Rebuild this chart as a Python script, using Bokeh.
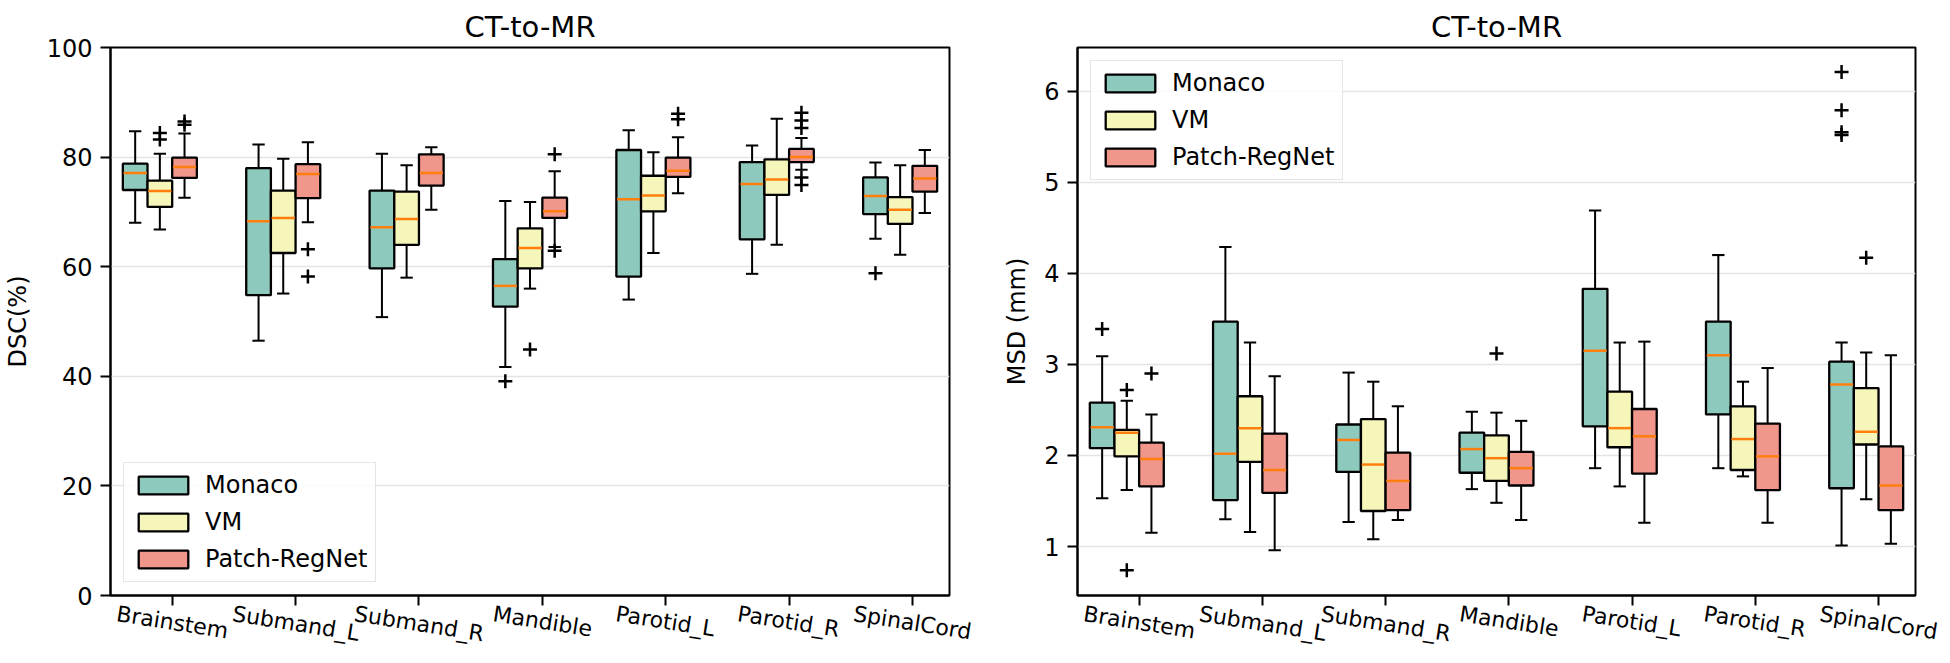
import math
from bokeh.plotting import figure
from bokeh.models import Range1d, FixedTicker, Legend, LegendItem
from bokeh.layouts import row
from bokeh.embed import file_html
from bokeh.resources import INLINE

structures = ["Brainstem", "Submand_L", "Submand_R", "Mandible", "Parotid_L", "Parotid_R", "SpinalCord"]
methods = ["Monaco", "VM", "Patch-RegNet"]
colors = ["#8ec9bd", "#f7f6ba", "#f0968a"]
median_color = "#ff7f0e"

# ---------------- DSC (%) ----------------
dsc_monaco_whislo = [68.0, 46.5, 50.8, 41.7, 54.0, 58.7, 65.1]
dsc_monaco_q1 = [74.0, 54.8, 59.7, 52.7, 58.2, 65.0, 69.6]
dsc_monaco_med = [77.1, 68.3, 67.2, 56.5, 72.3, 75.1, 72.9]
dsc_monaco_q3 = [78.8, 78.0, 73.9, 61.4, 81.3, 79.1, 76.3]
dsc_monaco_whishi = [84.7, 82.3, 80.6, 72.0, 84.9, 82.1, 79.0]
dsc_monaco_fliers = [[], [], [], [39.1], [], [], [58.8]]

dsc_vm_whislo = [66.8, 55.1, 58.0, 56.0, 62.5, 64.0, 62.2]
dsc_vm_q1 = [70.9, 62.5, 64.0, 59.7, 70.1, 73.1, 67.8]
dsc_vm_med = [73.8, 68.9, 68.7, 63.4, 73.0, 75.9, 70.4]
dsc_vm_q3 = [75.7, 73.9, 73.7, 67.0, 76.6, 79.6, 72.7]
dsc_vm_whishi = [80.6, 79.7, 78.5, 71.8, 80.9, 87.0, 78.5]
dsc_vm_fliers = [[83.2, 84.4], [], [], [44.9], [], [], []]

dsc_patch_whislo = [72.6, 68.1, 70.4, 63.6, 73.4, 77.7, 69.8]
dsc_patch_q1 = [76.2, 72.5, 74.8, 68.9, 76.4, 79.1, 73.7]
dsc_patch_med = [78.2, 76.9, 77.1, 70.1, 77.5, 80.0, 76.1]
dsc_patch_q3 = [79.9, 78.7, 80.5, 72.6, 79.9, 81.5, 78.4]
dsc_patch_whishi = [84.3, 82.7, 81.8, 77.4, 83.6, 83.5, 81.3]
dsc_patch_fliers = [[85.9, 86.5], [63.2, 58.2], [], [80.5, 62.9], [86.9, 87.9],
                    [85.3, 86.7, 88.1, 76.3, 74.9], []]

# ---------------- MSD (mm) ----------------
msd_monaco_whislo = [1.53, 1.30, 1.27, 1.63, 1.86, 1.86, 1.01]
msd_monaco_q1 = [2.08, 1.51, 1.82, 1.81, 2.32, 2.45, 1.64]
msd_monaco_med = [2.31, 2.02, 2.17, 2.07, 3.15, 3.10, 2.78]
msd_monaco_q3 = [2.58, 3.47, 2.34, 2.25, 3.83, 3.47, 3.03]
msd_monaco_whishi = [3.09, 4.29, 2.91, 2.48, 4.69, 4.20, 3.24]
msd_monaco_fliers = [[3.39], [], [], [], [], [], [6.21, 5.79, 5.55, 5.52]]

msd_vm_whislo = [1.62, 1.16, 1.08, 1.48, 1.66, 1.77, 1.52]
msd_vm_q1 = [1.99, 1.93, 1.39, 1.72, 2.09, 1.84, 2.12]
msd_vm_med = [2.25, 2.30, 1.90, 1.97, 2.30, 2.18, 2.26]
msd_vm_q3 = [2.28, 2.65, 2.40, 2.22, 2.70, 2.54, 2.74]
msd_vm_whishi = [2.60, 3.24, 2.81, 2.47, 3.24, 2.81, 3.13]
msd_vm_fliers = [[2.72, 0.74], [], [], [3.12], [], [], [4.17]]

msd_patch_whislo = [1.15, 0.96, 1.29, 1.29, 1.26, 1.26, 1.03]
msd_patch_q1 = [1.66, 1.59, 1.40, 1.67, 1.80, 1.62, 1.40]
msd_patch_med = [1.96, 1.84, 1.72, 1.86, 2.21, 1.99, 1.67]
msd_patch_q3 = [2.14, 2.24, 2.03, 2.04, 2.51, 2.35, 2.10]
msd_patch_whishi = [2.45, 2.87, 2.54, 2.38, 3.25, 2.96, 3.10]
msd_patch_fliers = [[2.90], [], [], [], [], [], []]

dsc_yticks = [0, 20, 40, 60, 80, 100]
msd_yticks = [1, 2, 3, 4, 5, 6]

dsc_stats = [
    (dsc_monaco_whislo, dsc_monaco_q1, dsc_monaco_med, dsc_monaco_q3, dsc_monaco_whishi, dsc_monaco_fliers),
    (dsc_vm_whislo, dsc_vm_q1, dsc_vm_med, dsc_vm_q3, dsc_vm_whishi, dsc_vm_fliers),
    (dsc_patch_whislo, dsc_patch_q1, dsc_patch_med, dsc_patch_q3, dsc_patch_whishi, dsc_patch_fliers),
]
msd_stats = [
    (msd_monaco_whislo, msd_monaco_q1, msd_monaco_med, msd_monaco_q3, msd_monaco_whishi, msd_monaco_fliers),
    (msd_vm_whislo, msd_vm_q1, msd_vm_med, msd_vm_q3, msd_vm_whishi, msd_vm_fliers),
    (msd_patch_whislo, msd_patch_q1, msd_patch_med, msd_patch_q3, msd_patch_whishi, msd_patch_fliers),
]

FONT = "DejaVu Sans"
offsets = [-0.3, -0.1, 0.1]
box_w = 0.2
X0, X1 = 0.5, 7.3          # x range of the plot frames
FRAME_W = 842
FRAME_H = 548
TOP = 47
FIG_H = 663
LABEL_SIZE = 22
LABEL_ANGLE = 9.0          # degrees, slanting down to the right
LABEL_STANDOFF = 8

# DejaVu Sans advance widths (em) used to centre the slanted labels on their ticks
GLYPH_W = {"B": .686, "r": .411, "a": .613, "i": .278, "n": .634, "s": .521, "t": .392,
           "e": .615, "m": .974, "S": .635, "u": .634, "b": .635, "d": .635, "_": .500,
           "L": .557, "R": .695, "M": .863, "l": .278, "P": .603, "o": .612, "p": .635,
           "C": .698, "c": .550}


def text_width(s, size):
    return sum(GLYPH_W.get(ch, 0.6) for ch in s) * size


def make_panel(stats, ylabel, y0, y1, yticks, width, border_left, border_right,
               legend_loc, ylabel_standoff):
    p = figure(width=width, height=FIG_H, output_backend="svg", toolbar_location=None,
               x_range=Range1d(X0, X1), y_range=Range1d(y0, y1),
               min_border_left=border_left, min_border_right=border_right,
               min_border_top=TOP, min_border_bottom=FIG_H - TOP - FRAME_H)
    p.background_fill_color = "white"
    p.border_fill_color = "white"
    p.outline_line_color = "black"
    p.outline_line_width = 2

    p.title.text = "CT-to-MR"
    p.title.align = "center"
    p.title.text_font = FONT
    p.title.text_font_size = "29px"
    p.title.text_font_style = "normal"
    p.title.text_color = "black"
    p.title.standoff = 7

    # x axis: tick marks (as minor ticks) on the categories, slanted labels
    # on anchor positions chosen so each label is centred under its tick
    ppu = FRAME_W / (X1 - X0)
    cos_a = math.cos(math.radians(LABEL_ANGLE))
    cat_pos = list(range(1, len(structures) + 1))
    anchors = [round(c - text_width(name, LABEL_SIZE) / 2 * cos_a / ppu, 5)
               for c, name in zip(cat_pos, structures)]
    p.xaxis.ticker = FixedTicker(ticks=anchors, minor_ticks=cat_pos)
    p.xaxis.major_label_overrides = {a: n for a, n in zip(anchors, structures)}
    p.xaxis.major_label_orientation = -math.radians(LABEL_ANGLE)
    p.xaxis.major_label_standoff = LABEL_STANDOFF
    p.xaxis.major_label_text_font = FONT
    p.xaxis.major_label_text_font_size = f"{LABEL_SIZE}px"
    p.xaxis.major_label_text_color = "black"
    p.xaxis.major_tick_line_color = None
    p.xaxis.major_tick_out = 0
    p.xaxis.major_tick_in = 0
    p.xaxis.minor_tick_line_color = "black"
    p.xaxis.minor_tick_line_width = 2
    p.xaxis.minor_tick_out = 10
    p.xaxis.minor_tick_in = 0
    p.xaxis.axis_line_color = "black"
    p.xaxis.axis_line_width = 2

    yt = FixedTicker(ticks=yticks)
    p.yaxis.ticker = yt
    p.ygrid.ticker = yt
    p.yaxis.axis_line_color = "black"
    p.yaxis.axis_line_width = 2
    p.yaxis.major_tick_line_color = "black"
    p.yaxis.major_tick_line_width = 2
    p.yaxis.major_tick_out = 10
    p.yaxis.major_tick_in = 0
    p.yaxis.minor_tick_line_color = None
    p.yaxis.major_label_text_font = FONT
    p.yaxis.major_label_text_font_size = "24px"
    p.yaxis.major_label_text_color = "black"
    p.yaxis.major_label_standoff = 8
    p.yaxis.axis_label = ylabel
    p.yaxis.axis_label_text_font = FONT
    p.yaxis.axis_label_text_font_size = "24px"
    p.yaxis.axis_label_text_font_style = "normal"
    p.yaxis.axis_label_text_color = "black"
    p.yaxis.axis_label_standoff = ylabel_standoff

    p.xgrid.visible = False
    p.ygrid.grid_line_color = "#e4e4e4"
    p.ygrid.grid_line_width = 1.5

    box_renderers = []
    for k, (whislo, q1, med, q3, whishi, fliers) in enumerate(stats):
        xs = [c + offsets[k] for c in cat_pos]
        p.segment(x0=xs, y0=q3, x1=xs, y1=whishi, line_color="black", line_width=2)
        p.segment(x0=xs, y0=q1, x1=xs, y1=whislo, line_color="black", line_width=2)
        p.segment(x0=[x - box_w / 4 for x in xs], x1=[x + box_w / 4 for x in xs],
                  y0=whishi, y1=whishi, line_color="black", line_width=2)
        p.segment(x0=[x - box_w / 4 for x in xs], x1=[x + box_w / 4 for x in xs],
                  y0=whislo, y1=whislo, line_color="black", line_width=2)
        r = p.vbar(x=xs, width=box_w, bottom=q1, top=q3, fill_color=colors[k],
                   line_color="black", line_width=2.3)
        box_renderers.append(r)
        p.segment(x0=[x - box_w / 2 + 0.006 for x in xs], x1=[x + box_w / 2 - 0.006 for x in xs],
                  y0=med, y1=med, line_color=median_color, line_width=2.5)
        fx, fy = [], []
        for i, fl in enumerate(fliers):
            for v in fl:
                fx.append(xs[i])
                fy.append(v)
        if fx:
            p.scatter(x=fx, y=fy, marker="cross", size=14, line_color="black", line_width=2.5)

    legend = Legend(items=[LegendItem(label=m, renderers=[box_renderers[k]])
                           for k, m in enumerate(methods)],
                    location=legend_loc)
    legend.margin = 13
    legend.padding = 8
    legend.spacing = 9
    legend.glyph_width = 62
    legend.glyph_height = 22
    legend.label_height = 28
    legend.label_standoff = 11
    legend.label_text_font = FONT
    legend.label_text_font_size = "24px"
    legend.label_text_color = "black"
    legend.border_line_color = "#cccccc"
    legend.border_line_width = 1.5
    legend.background_fill_color = "white"
    legend.background_fill_alpha = 0.8
    p.add_layout(legend)
    return p


p1 = make_panel(dsc_stats, "DSC(%)", 0, 100, dsc_yticks, 1000, 107, 51, "bottom_left", 12)
p2 = make_panel(msd_stats, "MSD (mm)", 0.462, 6.48, msd_yticks, 950, 73, 35, "top_left", 10)

layout = row(p1, p2, spacing=0)
open("out.html", "w").write(file_html(layout, INLINE))
